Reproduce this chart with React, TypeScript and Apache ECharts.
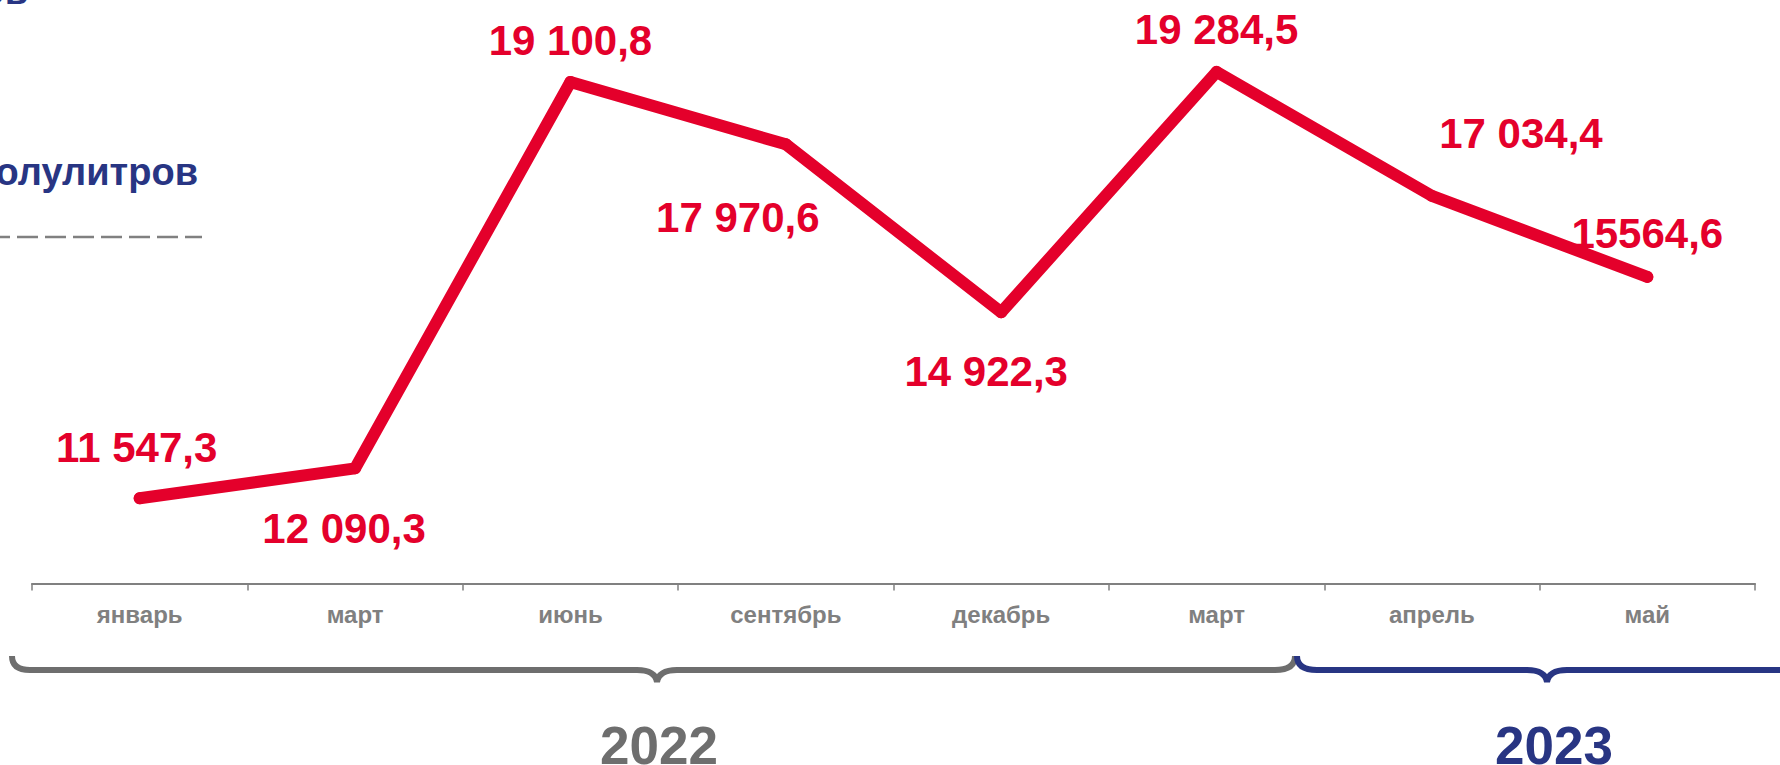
import React, { useEffect, useRef } from "react";
import * as echarts from "echarts";

const months = ["январь", "март", "июнь", "сентябрь", "декабрь", "март", "апрель", "май"];
const values = [11547.3, 12090.3, 19100.8, 17970.6, 14922.3, 19284.5, 17034.4, 15564.6];
const valueLabels = ["11 547,3", "12 090,3", "19 100,8", "17 970,6", "14 922,3", "19 284,5", "17 034,4", "15564,6"];
const years = ["2022", "2023"];
const unitLines = ["Объём продаж алкогольных напитков", "полулитров"];

// label placement (layout only)
const labelOffsets: [number, number][] = [
  [-3, -51], [-11, 60], [0, -42], [-48, 73], [-15, 59], [0, -42], [89, -62], [0, -43],
];

const FONT = '"Liberation Sans", Arial, sans-serif';
const RED = "#E4002B";
const GREY = "#6e6e6e";
const NAVY = "#283583";

const braceGreyD =
  "M12,656 Q12,670 30,670 L637,670 Q655,670 657,682 Q659,670 677,670 L1275,670 Q1295,670 1295,656";
const braceBlueD =
  "M1297,656 Q1297,670 1317,670 L1527,670 Q1545,670 1547,682 Q1549,670 1567,670 L1777,670 Q1797,670 1797,656";

export default function App() {
  const ref = useRef<HTMLDivElement>(null);
  useEffect(() => {
    if (!ref.current) return;
    echarts.graphic.registerShape("braceGrey", echarts.graphic.extendPath(braceGreyD, {}));
    echarts.graphic.registerShape("braceBlue", echarts.graphic.extendPath(braceBlueD, {}));
    const chart = echarts.init(ref.current, undefined, { renderer: "svg" });
    chart.setOption({
      animation: false,
      backgroundColor: "#ffffff",
      grid: { left: 32, right: 25, top: 32.5, height: 551 },
      xAxis: {
        type: "category",
        data: months,
        boundaryGap: true,
        axisLine: { lineStyle: { color: "#808080", width: 2 } },
        axisTick: { show: true, length: 7, lineStyle: { color: "#808080", width: 1.5 } },
        axisLabel: {
          interval: 0,
          margin: 19,
          color: "#808080",
          fontSize: 24,
          fontWeight: "bold",
          fontFamily: FONT,
        },
        splitLine: { show: false },
      },
      yAxis: { type: "value", min: 10000, max: 20000, show: false },
      series: [
        {
          type: "line",
          data: values.map((v, i) => ({ value: v, label: { offset: labelOffsets[i] } })),
          symbol: "circle",
          symbolSize: 12,
          itemStyle: { color: RED },
          lineStyle: { color: RED, width: 12, cap: "round", join: "round" },
          label: {
            show: true,
            position: "inside",
            align: "center",
            verticalAlign: "middle",
            formatter: (p: any) => valueLabels[p.dataIndex],
            fontSize: 42,
            fontWeight: "bold",
            fontFamily: FONT,
            color: RED,
          },
          z: 3,
        },
      ],
      graphic: [
        {
          type: "text",
          x: 28,
          y: -9,
          style: {
            text: unitLines[0],
            align: "right",
            verticalAlign: "middle",
            fontSize: 38,
            fontWeight: "bold",
            fontFamily: FONT,
            fill: NAVY,
          },
        },
        {
          type: "text",
          x: 198,
          y: 172,
          style: {
            text: unitLines[1],
            align: "right",
            verticalAlign: "middle",
            fontSize: 38,
            fontWeight: "bold",
            fontFamily: FONT,
            fill: NAVY,
          },
        },
        {
          type: "line",
          shape: { x1: -11, y1: 237, x2: 202, y2: 237 },
          style: { stroke: "#808080", lineWidth: 2.5, lineDash: [21, 7] },
        },
        { type: "braceGrey", x: 0, y: 0, style: { stroke: GREY, lineWidth: 6, fill: "none" } },
        { type: "braceBlue", x: 0, y: 0, style: { stroke: NAVY, lineWidth: 6, fill: "none" } },
        {
          type: "text",
          x: 659,
          y: 745,
          style: {
            text: years[0],
            align: "center",
            verticalAlign: "middle",
            fontSize: 53,
            fontWeight: "bold",
            fontFamily: FONT,
            fill: GREY,
          },
        },
        {
          type: "text",
          x: 1554,
          y: 745,
          style: {
            text: years[1],
            align: "center",
            verticalAlign: "middle",
            fontSize: 53,
            fontWeight: "bold",
            fontFamily: FONT,
            fill: NAVY,
          },
        },
      ],
    });
    return () => chart.dispose();
  }, []);
  return (
    <div
      ref={ref}
      style={{ position: "fixed", left: 0, top: 0, width: 1780, height: 765 }}
    />
  );
}
